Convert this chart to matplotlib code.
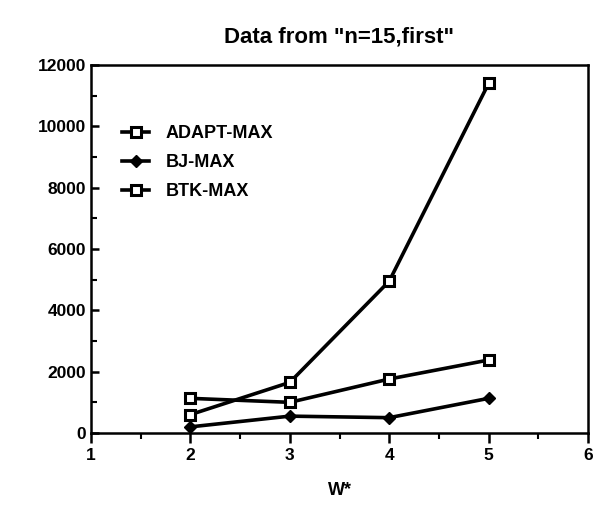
import numpy as np
import matplotlib.pyplot as plt
from matplotlib.ticker import MultipleLocator

plt.rcParams['font.family'] = ['Liberation Sans', 'DejaVu Sans']
plt.rcParams['font.weight'] = 'bold'

# data
w = [2, 3, 4, 5]
adapt_max = [600, 1650, 4950, 11400]
bj_max = [200, 550, 500, 1130]
btk_max = [1130, 1000, 1760, 2380]

fig = plt.figure(figsize=(5.96, 5.16), dpi=100)
ax = fig.add_axes([91 / 596, 1 - 433 / 516, 497 / 596, 368 / 516])

ax.plot(w, adapt_max, color='black', lw=2.6, marker='s', ms=6.5,
        mfc='white', mec='black', mew=2.2, label='ADAPT-MAX')
ax.plot(w, bj_max, color='black', lw=2.6, marker='D', ms=6,
        mfc='black', mec='black', label='BJ-MAX')
ax.plot(w, btk_max, color='black', lw=2.6, marker='s', ms=6.5,
        mfc='white', mec='black', mew=2.2, label='BTK-MAX')

ax.set_xlim(1, 6)
ax.set_ylim(0, 12000)
ax.xaxis.set_major_locator(MultipleLocator(1))
ax.xaxis.set_minor_locator(MultipleLocator(0.5))
ax.yaxis.set_major_locator(MultipleLocator(2000))
ax.yaxis.set_minor_locator(MultipleLocator(1000))

ax.tick_params(axis='x', which='major', direction='out', length=7, width=1.8, labelsize=12.5)
ax.tick_params(axis='x', which='minor', direction='out', length=4, width=1.5)
ax.tick_params(axis='y', which='major', direction='in', length=6, width=1.8, labelsize=12.5)
ax.tick_params(axis='y', which='minor', direction='in', length=4, width=1.5)
for s in ax.spines.values():
    s.set_linewidth(1.8)

ax.set_xlabel('W*', fontsize=13, fontweight='bold', labelpad=14)
ax.set_title('Data from "n=15,first"', fontsize=16, fontweight='bold', pad=16)

ax.legend(loc='upper left', bbox_to_anchor=(0.03, 0.88), frameon=False,
          fontsize=13, handlelength=1.5, labelspacing=0.65, handletextpad=0.9)

fig.savefig('out.png', dpi=100)
